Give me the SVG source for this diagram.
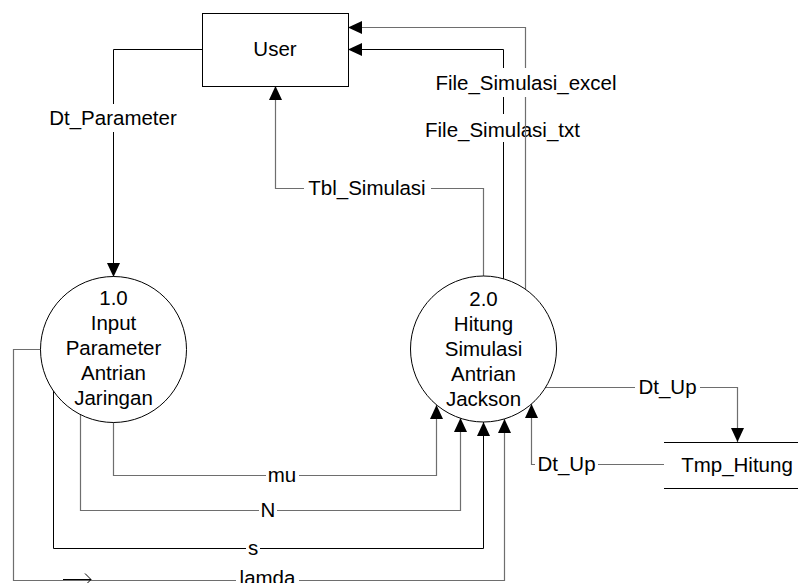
<svg xmlns="http://www.w3.org/2000/svg" width="798" height="583" viewBox="0 0 798 583">
<style>
text{font-family:"Liberation Sans",Arial,sans-serif;font-size:20.5px;fill:#000;text-anchor:middle}
.k{fill:none;stroke:#000;stroke-width:1}
.g{fill:none;stroke:#6e6e6e;stroke-width:1.2}
.bg{fill:#fff}
.node{fill:#fff;stroke:#000;stroke-width:1}
</style>
<defs>
<marker id="ah" viewBox="0 0 14 13" refX="14" refY="6.5" markerWidth="14" markerHeight="13" markerUnits="userSpaceOnUse" orient="auto">
<path d="M0,0 L14,6.5 L0,13 Z" fill="#000"/>
</marker>
</defs>
<rect width="798" height="583" fill="#fff"/>
<g id="connectors">
<path class="k" d="M202,49.5 H113.5 V277" marker-end="url(#ah)"/>
<rect class="bg" x="46" y="104" width="135" height="28"/>
<text x="113" y="125">Dt_Parameter</text>
<path class="g" d="M483.5,276 V188.5 H275.5 V86" marker-end="url(#ah)"/>
<rect class="bg" x="304" y="176" width="127" height="25"/>
<text x="367" y="195">Tbl_Simulasi</text>
<path class="k" d="M503.5,279 V49.5 H348" marker-end="url(#ah)"/>
<rect class="bg" x="423" y="114" width="97" height="28"/>
<text x="502.5" y="137">File_Simulasi_txt</text>
<path class="g" d="M525.5,289 V27.5 H348" marker-end="url(#ah)"/>
<rect class="bg" x="432" y="68" width="188" height="29"/>
<text x="526" y="90">File_Simulasi_excel</text>
<path class="g" d="M113.5,422 V475.5 H436.5 V405" marker-end="url(#ah)"/>
<rect class="bg" x="266" y="464" width="33" height="22"/>
<text x="282" y="482">mu</text>
<path class="g" d="M80.5,414 V510.5 H460.5 V418" marker-end="url(#ah)"/>
<rect class="bg" x="259" y="498" width="18" height="24"/>
<text x="268" y="517">N</text>
<path class="k" d="M53.5,389 V548.5 H483.5 V422" marker-end="url(#ah)"/>
<rect class="bg" x="246" y="540" width="14" height="18"/>
<text x="253" y="555">s</text>
<path class="g" d="M41,349.5 H13.5 V580.5 H504.5 V419" marker-end="url(#ah)"/>
<rect class="bg" x="236" y="568" width="63" height="15"/>
<text x="267.5" y="585">lamda</text>
<path class="k" d="M63,579.5 H91 M85,573.5 L91,579.5 L85,585.5"/>
<path class="g" d="M545,387.5 H737.5 V442" marker-end="url(#ah)"/>
<rect class="bg" x="635" y="376" width="65" height="24"/>
<text x="667.5" y="394">Dt_Up</text>
<path class="g" d="M664,464.5 H531.5 V404" marker-end="url(#ah)"/>
<rect class="bg" x="535" y="453" width="63" height="24"/>
<text x="566.5" y="471">Dt_Up</text>
</g>
<g id="user">
<rect class="node" x="202.5" y="13.5" width="146" height="73"/>
<text x="275" y="56">User</text>
</g>
<g id="p1">
<circle class="node" cx="113.5" cy="349.5" r="73"/>
<text x="113.5" y="305">1.0</text>
<text x="113.5" y="330">Input</text>
<text x="113.5" y="355">Parameter</text>
<text x="113.5" y="380">Antrian</text>
<text x="113.5" y="405">Jaringan</text>
</g>
<g id="p2">
<circle class="node" cx="483.5" cy="349" r="73"/>
<text x="483.5" y="306">2.0</text>
<text x="483.5" y="331">Hitung</text>
<text x="483.5" y="356">Simulasi</text>
<text x="483.5" y="381">Antrian</text>
<text x="483.5" y="406">Jackson</text>
</g>
<g id="store">
<path class="k" d="M664,442.5 H798 M664,488.5 H798"/>
<text x="737" y="472">Tmp_Hitung</text>
</g>
</svg>
